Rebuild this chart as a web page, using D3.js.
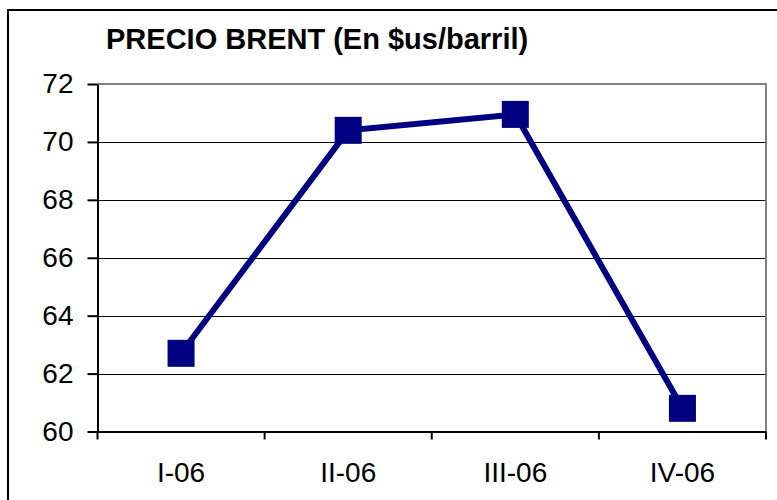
<!DOCTYPE html>
<html>
<head>
<meta charset="utf-8">
<script src="https://cdn.jsdelivr.net/npm/d3@7"></script>
<style>
  body { margin: 0; background: #fff; }
  svg { display: block; font-family: Arial, "Liberation Sans", sans-serif; }
</style>
</head>
<body>
<div id="chart"></div>
<script>
// Chart data
const quarters = ['I-06', 'II-06', 'III-06', 'IV-06'];
const brentPrice = [62.7, 70.4, 70.95, 60.8];
const yTicks = [60, 62, 64, 66, 68, 70, 72];
const chartTitle = 'PRECIO BRENT (En $us/barril)';

const width = 777;
const height = 500;
const plot = { left: 97.5, right: 766, top: 84, bottom: 431.5 };

const svg = d3.select('#chart')
  .append('svg')
  .attr('width', width)
  .attr('height', height);

// Outer frame (cut off at right and bottom like the original)
svg.append('rect')
  .attr('x', 8)
  .attr('y', 10)
  .attr('width', 800)
  .attr('height', 600)
  .attr('fill', 'none')
  .attr('stroke', '#000')
  .attr('stroke-width', 2);

svg.append('text')
  .attr('x', 106)
  .attr('y', 49)
  .attr('font-size', 29)
  .attr('font-weight', 'bold')
  .text(chartTitle);

// Scales
const xScale = d3.scaleBand()
  .domain(quarters)
  .range([plot.left, plot.right]);

const yScale = d3.scaleLinear()
  .domain([60, 72])
  .range([plot.bottom, plot.top]);

// Gridlines
svg.append('g')
  .selectAll('line')
  .data(yTicks.filter((d) => d > 60 && d < 72))
  .join('line')
  .attr('x1', plot.left)
  .attr('x2', plot.right)
  .attr('y1', (d) => Math.round(yScale(d)) + 0.5)
  .attr('y2', (d) => Math.round(yScale(d)) + 0.5)
  .attr('stroke', '#000')
  .attr('stroke-width', 1);

// Plot area border (gray top and right)
svg.append('path')
  .attr('d', `M${plot.left},${plot.top}H${plot.right}V${plot.bottom}`)
  .attr('fill', 'none')
  .attr('stroke', '#808080')
  .attr('stroke-width', 2);

// Y axis
const yAxis = svg.append('g')
  .attr('transform', `translate(${plot.left}, 0)`)
  .call(d3.axisLeft(yScale).tickValues(yTicks).tickSize(10).tickPadding(14).tickSizeOuter(0));
yAxis.select('.domain').attr('stroke-width', 2);
yAxis.selectAll('.tick line').attr('stroke-width', 2);
yAxis.selectAll('text')
  .attr('font-size', 28)
  .attr('font-family', 'Arial, "Liberation Sans", sans-serif')
  .attr('fill', '#000');

// X axis labels
const xAxis = svg.append('g')
  .attr('transform', `translate(0, ${plot.bottom})`)
  .call(d3.axisBottom(xScale).tickSize(0).tickPadding(31).tickSizeOuter(0));
xAxis.select('.domain').attr('stroke-width', 2);
xAxis.selectAll('text')
  .attr('font-size', 28)
  .attr('font-family', 'Arial, "Liberation Sans", sans-serif')
  .attr('fill', '#000');

// X ticks at category boundaries
const boundaries = quarters.map((q) => xScale(q)).concat([xScale.range()[1]]);
svg.append('g')
  .selectAll('line')
  .data(boundaries)
  .join('line')
  .attr('x1', (d) => d)
  .attr('x2', (d) => d)
  .attr('y1', plot.bottom)
  .attr('y2', plot.bottom + 8)
  .attr('stroke', '#000')
  .attr('stroke-width', 2);

// Series line
const cx = (i) => xScale(quarters[i]) + xScale.bandwidth() / 2;
const line = d3.line()
  .x((d, i) => cx(i))
  .y((d) => yScale(d));

svg.append('path')
  .datum(brentPrice)
  .attr('d', line)
  .attr('fill', 'none')
  .attr('stroke', '#000080')
  .attr('stroke-width', 6);

// Square markers
const markerSize = 27;
svg.append('g')
  .selectAll('rect')
  .data(brentPrice)
  .join('rect')
  .attr('x', (d, i) => cx(i) - markerSize / 2)
  .attr('y', (d) => yScale(d) - markerSize / 2)
  .attr('width', markerSize)
  .attr('height', markerSize)
  .attr('fill', '#000080');
</script>
</body>
</html>
